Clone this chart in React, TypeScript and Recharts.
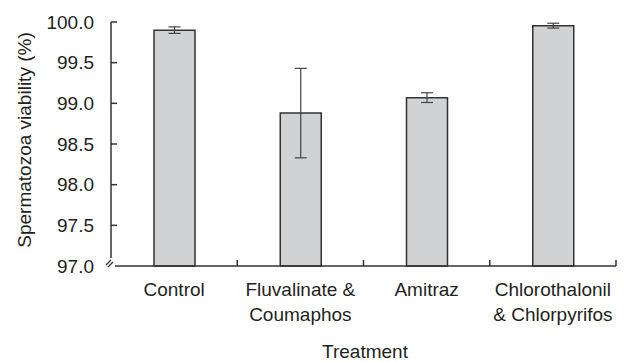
import React from "react";
import { BarChart, Bar, XAxis, YAxis, ErrorBar } from "recharts";

const categories: string[][] = [
  ["Control"],
  ["Fluvalinate &", "Coumaphos"],
  ["Amitraz"],
  ["Chlorothalonil", "& Chlorpyrifos"],
];
const viability = [99.9, 98.88, 99.07, 99.955];
const errors = [0.04, 0.55, 0.06, 0.03];
const yTicks = [97.0, 97.5, 98.0, 98.5, 99.0, 99.5, 100.0];

const data = categories.map((c, i) => ({
  name: c.join("\n"),
  value: viability[i],
  err: errors[i],
}));

const W = 628;
const H = 362;
const M = { top: 22, right: 12, left: 0, bottom: 0 };
const Y_AXIS_W = 111;
const X_AXIS_H = 96;
const PLOT_W = W - M.left - M.right - Y_AXIS_W;
const STEP = PLOT_W / categories.length;
const TEXT = "#231f20";
const AXIS = "#333333";
const FONT = "'Liberation Sans', Arial, sans-serif";
const FS = 19;
const Y_TICK_GAP = 17;

const YTick = (props: any) => {
  const { x, y, payload } = props;
  const ax = x + Y_TICK_GAP;
  const isBottom = Math.abs(payload.value - yTicks[0]) < 1e-9;
  return (
    <g>
      <text x={x} y={y} textAnchor="end" dominantBaseline="central" fill={TEXT} fontSize={FS} fontFamily={FONT}>
        {Number(payload.value).toFixed(1)}
      </text>
      {isBottom ? (
        <g>
          <rect x={ax - 6} y={y - 8} width={10} height={9} fill="#ffffff" />
          <line x1={ax - 5} y1={y - 1} x2={ax + 0} y2={y - 6} stroke={AXIS} strokeWidth={1.2} />
          <line x1={ax - 3} y1={y + 1} x2={ax + 2} y2={y - 4} stroke={AXIS} strokeWidth={1.2} />
        </g>
      ) : (
        <line x1={ax} y1={y} x2={ax + 6} y2={y} stroke={AXIS} strokeWidth={1.5} />
      )}
    </g>
  );
};

const XTick = (props: any) => {
  const { x, y, payload } = props;
  const lines = String(payload.value).split("\n");
  return (
    <g>
      {lines.map((l, i) => (
        <text key={i} x={x} y={y + 30 + i * 25} textAnchor="middle" fill={TEXT} fontSize={FS} fontFamily={FONT}>
          {l}
        </text>
      ))}
      <line x1={x + STEP / 2} y1={y} x2={x + STEP / 2} y2={y - 6} stroke={AXIS} strokeWidth={1.5} />
    </g>
  );
};

const YLabel = () => (
  <text
    x={24}
    y={140}
    transform="rotate(-90, 24, 140)"
    textAnchor="middle"
    dominantBaseline="central"
    fill={TEXT}
    fontSize={FS}
    fontFamily={FONT}
  >
    Spermatozoa viability (%)
  </text>
);

const XLabel = () => (
  <text x={365} y={358} textAnchor="middle" fill={TEXT} fontSize={FS} fontFamily={FONT}>
    Treatment
  </text>
);

export default function App() {
  return (
    <div style={{ position: "absolute", left: 0, top: 0, width: W, height: H, background: "#fff" }}>
      <BarChart width={W} height={H} data={data} margin={M} barSize={41}>
        <XAxis
          dataKey="name"
          height={X_AXIS_H}
          tickSize={0}
          tickMargin={0}
          tickLine={false}
          axisLine={{ stroke: AXIS, strokeWidth: 1.5 }}
          tick={<XTick />}
          interval={0}
          label={{ content: () => <XLabel /> }}
        />
        <YAxis
          width={Y_AXIS_W}
          domain={[97, 100]}
          ticks={yTicks}
          tickSize={0}
          tickMargin={Y_TICK_GAP}
          tickLine={false}
          axisLine={{ stroke: AXIS, strokeWidth: 1.5 }}
          tick={<YTick />}
          interval={0}
          label={{ content: () => <YLabel /> }}
        />
        <Bar dataKey="value" fill="#d1d2d4" stroke={AXIS} strokeWidth={1.5} isAnimationActive={false}>
          <ErrorBar dataKey="err" width={6} stroke="#444444" strokeWidth={1.2} />
        </Bar>
      </BarChart>
    </div>
  );
}
